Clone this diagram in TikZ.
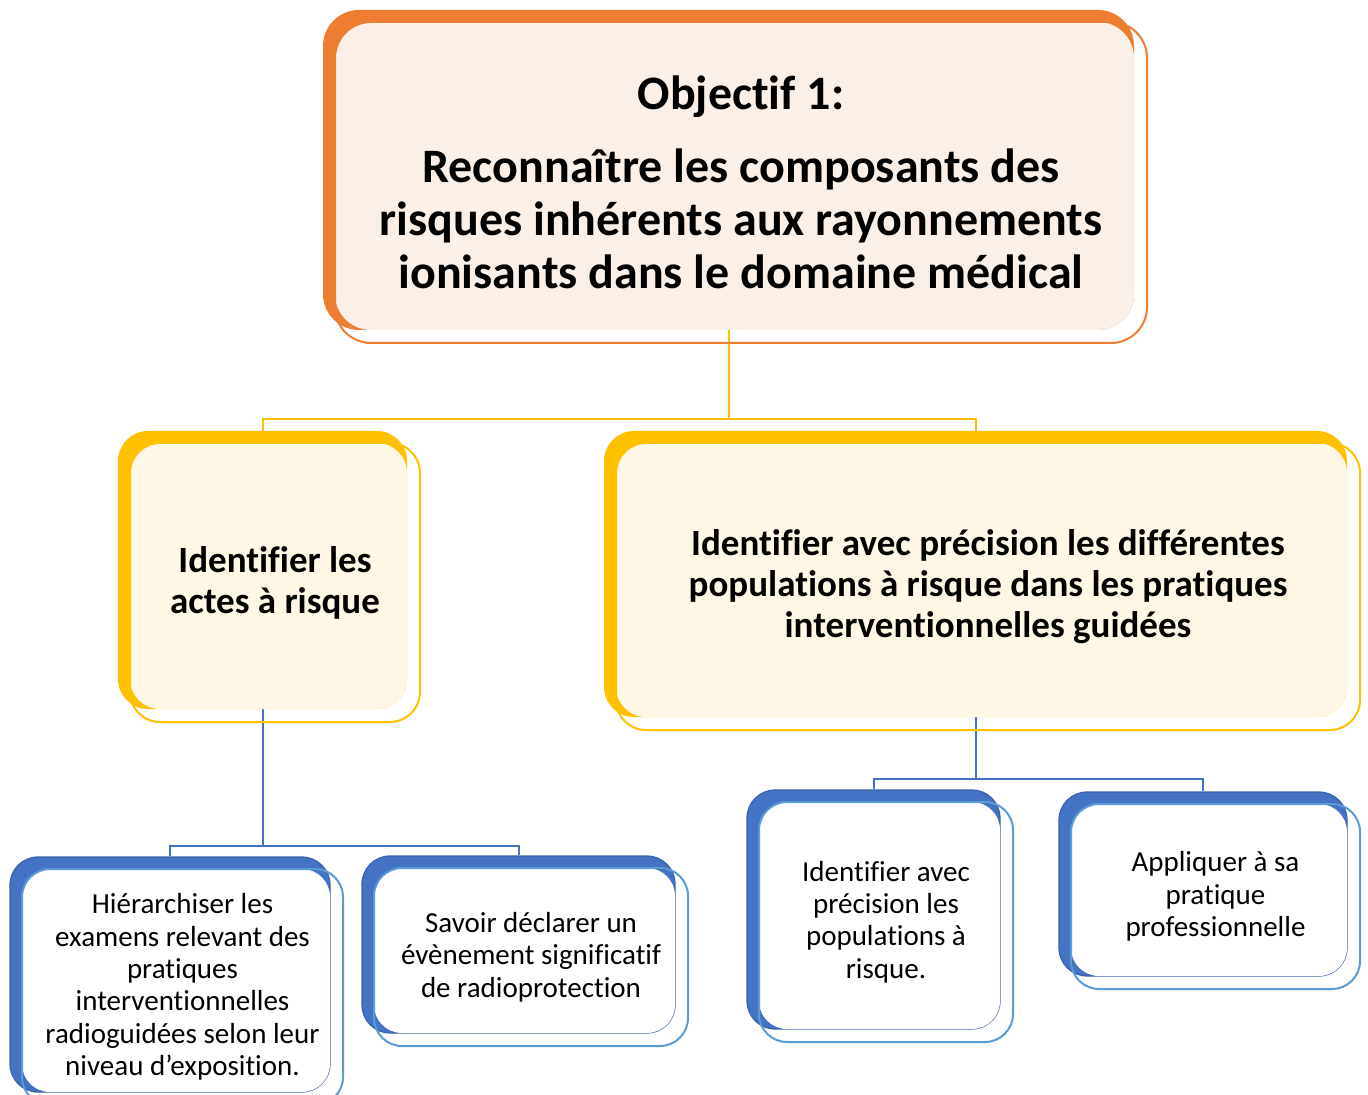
\documentclass[tikz,border=0pt]{standalone}
\usepackage{fontspec}
\setmainfont{Carlito}[Ligatures=CommonOff]
\usepackage{tikz}
\usetikzlibrary{fit,backgrounds,positioning}

\definecolor{orDark}{HTML}{ED7D31}
\definecolor{orLight}{HTML}{FBF0E7}
\definecolor{yeDark}{HTML}{FFC000}
\definecolor{yeLight}{HTML}{FFF7E6}
\definecolor{blDark}{HTML}{4472C4}
\definecolor{blEdge}{HTML}{3A62A9}
\definecolor{blLine}{HTML}{5B9BD5}

\tikzset{
  or back/.style={fill=orDark, inner sep=0pt, rounded corners=18pt},
  or fill/.style={fill=orLight, rounded corners=18pt},
  or front/.style={draw=orDark, line width=1pt, inner sep=0pt, rounded corners=18pt},
  or text/.style={align=center, font=\fontsize{24}{26.5}\selectfont\bfseries},
  ye back/.style={fill=yeDark, inner sep=0pt, rounded corners=15pt},
  ye fill/.style={fill=yeLight, rounded corners=15pt},
  ye front/.style={draw=yeDark, line width=1pt, inner sep=0pt, rounded corners=15pt},
  ye text/.style={align=center, font=\fontsize{18.5}{20.5}\selectfont\bfseries},
  bl back/.style={fill=blDark, draw=blEdge, line width=0.6pt, inner sep=0pt, rounded corners=14pt},
  bl fill/.style={fill=white, rounded corners=14pt},
  bl front/.style={draw=blLine, line width=1pt, inner sep=0pt, rounded corners=14pt},
  bl text/.style={align=center, font=\fontsize{14.5}{16.2}\selectfont},
  ye link/.style={draw=yeDark, line width=1pt},
  bl link/.style={draw=blDark, line width=1pt},
}

% back shape, inner fill, front frame, then the text
\newcommand{\objbox}[7]{%
  \node[#2 back, fit={(#3,#4) (#5-13,#6-13)}] (#1) {};
  \fill[#2 fill] (#3+12,#4+12) rectangle (#5-13,#6-13);
  \node[#2 front, fit={(#3+12,#4+12) (#5,#6)}] (#1-f) {};
  \node[#2 text] (#1-t) at (#1-f.center) {#7};
}

\begin{document}
\begin{tikzpicture}[x=0.5pt, y=-0.5pt]
    \useasboundingbox (0,0) rectangle (1368,1095);
    \clip (0,0) rectangle (1368,1095);

    \objbox{obj}{or}{323}{10}{1147}{343}{Objectif 1:\\[10pt]
      Reconnaître les composants des\\
      risques inhérents aux rayonnements\\
      ionisants dans le domaine médical}

    \objbox{actes}{ye}{118}{431}{420}{722}{Identifier les\\ actes à risque}
    \objbox{popu}{ye}{604}{431}{1360}{730}{Identifier avec précision les différentes\\
      populations à risque dans les pratiques\\
      interventionnelles guidées}

    \objbox{hier}{bl}{10}{857}{343}{1105}{Hiérarchiser les\\ examens relevant des\\
      pratiques\\ interventionnelles\\ radioguidées selon leur\\ niveau d’exposition.}
    \objbox{decl}{bl}{362}{856}{688}{1046}{Savoir déclarer un\\ évènement significatif\\ de radioprotection}
    \objbox{ident}{bl}{747}{790}{1013}{1042}{Identifier avec\\ précision les\\ populations à\\ risque.}
    \objbox{appl}{bl}{1059}{792}{1360}{989}{Appliquer à sa\\ pratique\\ professionnelle}

    \coordinate (ybar) at (0,419);
    \coordinate (lbar) at (0,846);
    \coordinate (rbar) at (0,779);

    \begin{scope}[on background layer]
    \draw[ye link] (obj.south) -- (obj.south |- ybar) -| (actes.north);
    \draw[ye link] (obj.south |- ybar) -| (popu.north);
    \draw[bl link] (actes.south) -- (actes.south |- lbar) -| (hier.north);
    \draw[bl link] (actes.south |- lbar) -| (decl.north);
    \draw[bl link] (popu.south) -- (popu.south |- rbar) -| (ident.north);
    \draw[bl link] (popu.south |- rbar) -| (appl.north);
    \end{scope}
\end{tikzpicture}
\end{document}
